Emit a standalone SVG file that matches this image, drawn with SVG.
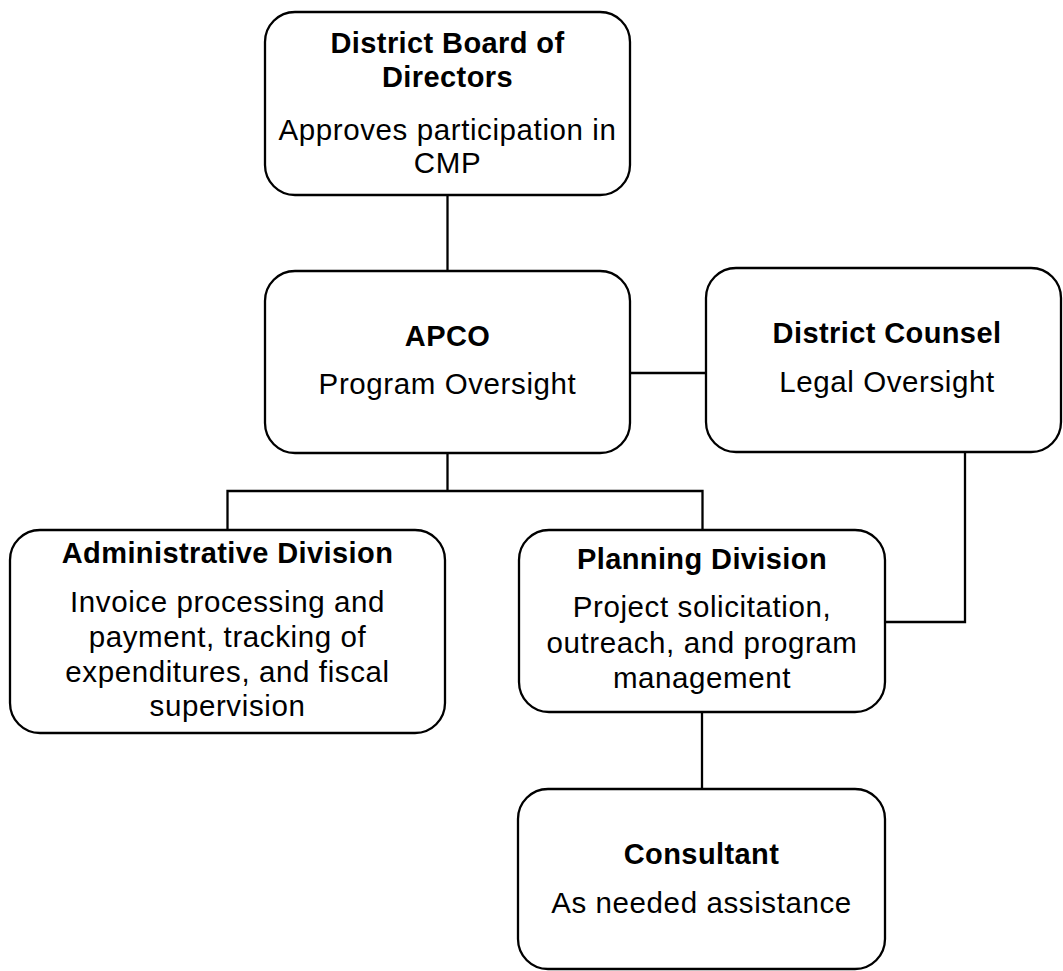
<svg xmlns="http://www.w3.org/2000/svg" width="1063" height="971" viewBox="0 0 1063 971">
<style>
.box{fill:#fff;stroke:#000;stroke-width:2.3}
.ln{fill:none;stroke:#000;stroke-width:2.3}
text{font-family:"Liberation Sans",Arial,sans-serif;font-size:29.5px;letter-spacing:0.6px;fill:#000;text-anchor:middle}
.t{font-weight:bold;font-size:29px;letter-spacing:0.4px}
</style>
<rect width="1063" height="971" fill="#fff"/>
<g id="connectors">
<path class="ln" d="M447.5 195V270"/>
<path class="ln" d="M630 373H706"/>
<path class="ln" d="M447.5 453V491H227.5V530M447.5 491H702.5V530"/>
<path class="ln" d="M965 452V622H885"/>
<path class="ln" d="M702 712V789"/>
</g>
<g id="board">
<rect class="box" x="265" y="12" width="365" height="183" rx="30"/>
<text class="t" x="447.5" y="53">District Board of</text>
<text class="t" x="447.5" y="87">Directors</text>
<text x="447.5" y="140">Approves participation in</text>
<text x="447.5" y="173">CMP</text>
</g>
<g id="apco">
<rect class="box" x="265" y="271" width="365" height="182" rx="30"/>
<text class="t" x="447.5" y="346">APCO</text>
<text x="447.5" y="394">Program Oversight</text>
</g>
<g id="counsel">
<rect class="box" x="706" y="268" width="355" height="184" rx="30"/>
<text class="t" x="887" y="343">District Counsel</text>
<text x="887" y="392">Legal Oversight</text>
</g>
<g id="admin">
<rect class="box" x="10" y="530" width="435" height="203" rx="30"/>
<text class="t" x="227.5" y="563">Administrative Division</text>
<text x="227.5" y="612">Invoice processing and</text>
<text x="227.5" y="647">payment, tracking of</text>
<text x="227.5" y="682">expenditures, and fiscal</text>
<text x="227.5" y="716">supervision</text>
</g>
<g id="planning">
<rect class="box" x="519" y="530" width="366" height="182" rx="30"/>
<text class="t" x="702" y="569">Planning Division</text>
<text x="702" y="617">Project solicitation,</text>
<text x="702" y="653">outreach, and program</text>
<text x="702" y="688">management</text>
</g>
<g id="consultant">
<rect class="box" x="518" y="789" width="367" height="180" rx="30"/>
<text class="t" x="701.5" y="864">Consultant</text>
<text x="701.5" y="913">As needed assistance</text>
</g>
</svg>
